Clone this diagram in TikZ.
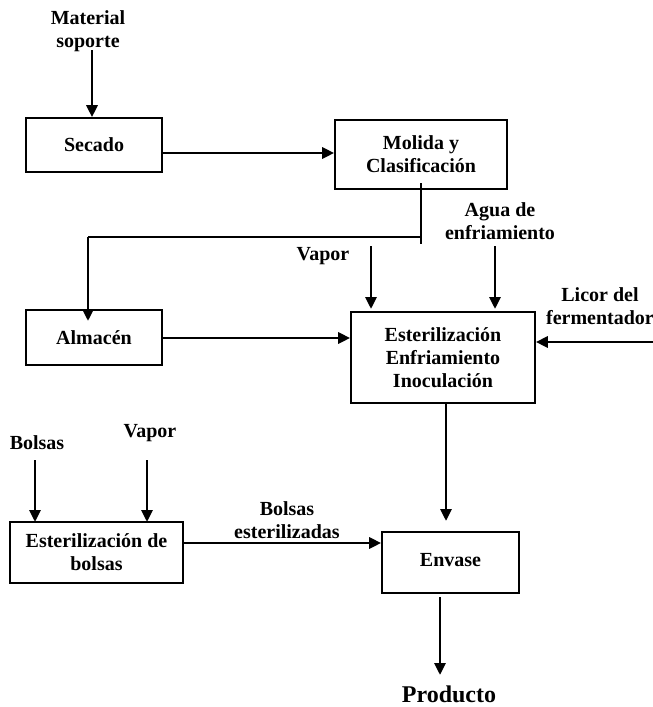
\documentclass[tikz,border=0pt]{standalone}
\usepackage{fontspec}
\setmainfont{Liberation Serif}
\usetikzlibrary{arrows.meta,calc}
\begin{document}
\begin{tikzpicture}[x=1pt,y=-1pt,
  every node/.style={font=\fontsize{20}{23}\selectfont\bfseries, align=center, inner sep=0pt},
  box/.style={draw, line width=1.6pt},
  flow/.style={line width=2.9pt, -{Triangle[length=12pt,width=11pt]}},
  thinline/.style={line width=1.4pt}]
\useasboundingbox (0,0) rectangle (653,707);
% boxes
\node[box, minimum width=136pt, minimum height=54pt] (secado) at (94,145) {Secado};
\node[box, minimum width=172pt, minimum height=69pt] (molida) at (421,154.5) {Molida y\\Clasificación};
\node[box, minimum width=136pt, minimum height=55pt] (almacen) at (94,337.5) {Almacén};
\node[box, minimum width=184pt, minimum height=91pt] (ester) at (443,357.5) {Esterilización\\Enfriamiento\\Inoculación};
\node[box, minimum width=173pt, minimum height=61pt] (esbol) at (96.5,552.5) {Esterilización de\\bolsas};
\node[box, minimum width=137pt, minimum height=61pt] (envase) at (450.5,562.5) {\raisebox{5pt}{Envase}};
% labels
\node (mat) at (88,31) {Material\\soporte};
\node (vapor1) at (323,256) {Vapor};
\node (agua) at (500,221.5) {Agua de\\enfriamiento};
\node (licor) at (600,306) {Licor del\\fermentador};
\node (bolsas) at (37,443) {Bolsas};
\node (vapor2) at (150,433) {Vapor};
\node (bolest) at (287,520.5) {Bolsas\\esterilizadas};
\node[font=\fontsize{24}{28}\selectfont\bfseries] (prod) at (449,694) {Producto};
% coordinates
\coordinate (matS) at (92,50);
\coordinate (splitTop) at (421,183);
\coordinate (splitBot) at (421,244);
\coordinate (splitJ) at (421,237);
\coordinate (leftJ) at (88,237);
\coordinate (almIn) at (88,321);
\coordinate (vap1S) at (371,246);
\coordinate (vap1E) at (371,309);
\coordinate (aguaS) at (495,246);
\coordinate (aguaE) at (495,309);
\coordinate (licorS) at (653,342);
\coordinate (ester2) at (446,403);
\coordinate (envIn) at (446,521);
\coordinate (envOut) at (440,597);
\coordinate (prodIn) at (440,675);
\coordinate (bolS) at (35,460);
\coordinate (bolE) at (35,522);
\coordinate (vap2S) at (147,460);
\coordinate (vap2E) at (147,522);
\coordinate (ebOut) at (183,543);
% connectors
\draw[flow] (matS) -- (matS |- secado.north);
\draw[flow] (secado.east |- 0,153) -- (molida.west |- 0,153);
\draw[thinline] (splitTop) -- (splitBot);
\draw[thinline] (splitJ) -- (leftJ);
\draw[flow] (leftJ) -- (almIn);
\draw[flow] (vap1S) -- (vap1E);
\draw[flow] (aguaS) -- (aguaE);
\draw[flow] (licorS) -- (ester.east |- licorS);
\draw[flow] (almacen.east |- 0,338) -- (ester.west |- 0,338);
\draw[flow] (ester2) -- (envIn);
\draw[flow] (envOut) -- (prodIn);
\draw[flow] (bolS) -- (bolE);
\draw[flow] (vap2S) -- (vap2E);
\draw[flow] (ebOut) -- (envase.west |- ebOut);
\end{tikzpicture}
\end{document}
